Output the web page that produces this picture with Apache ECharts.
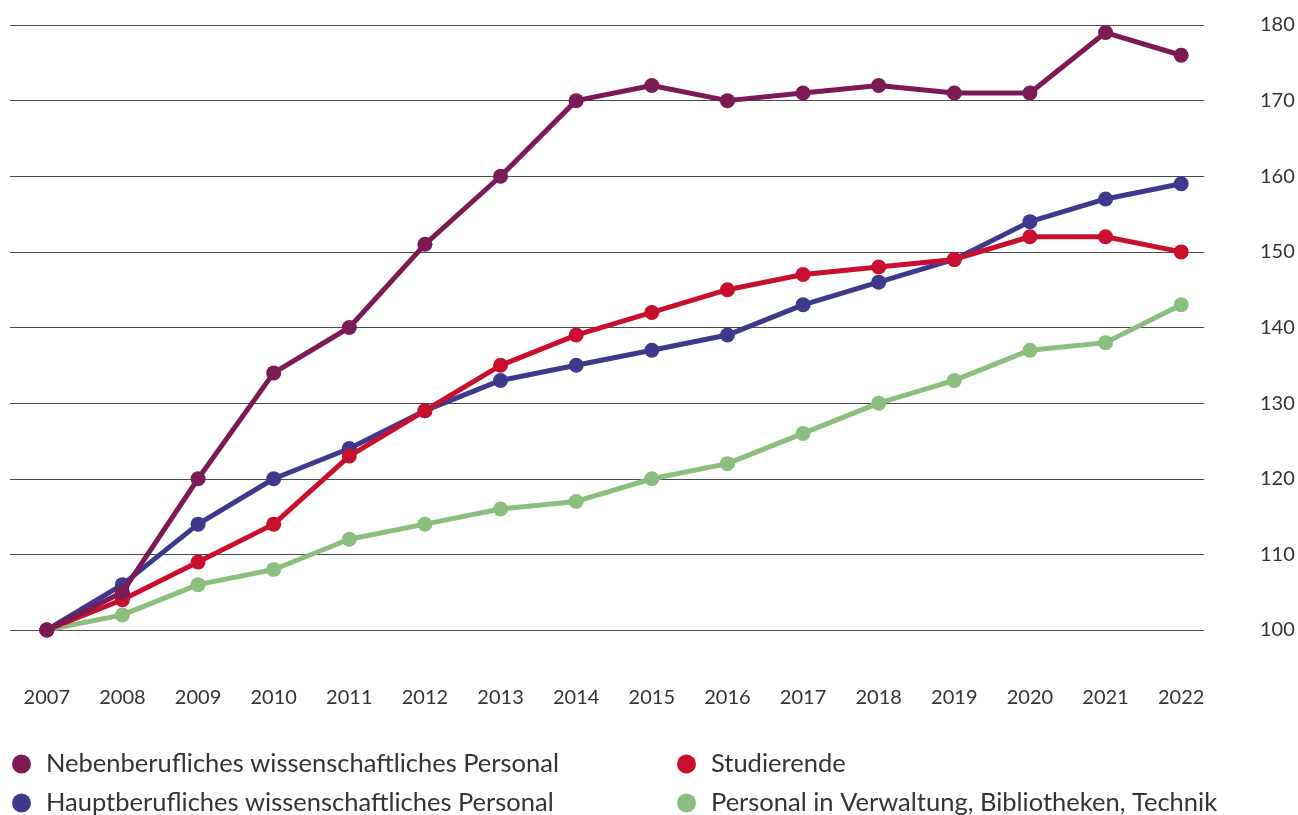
<!DOCTYPE html>
<html>
<head>
<meta charset="utf-8">
<script src="https://cdn.jsdelivr.net/npm/echarts@6/dist/echarts.min.js"></script>
<style>
  html, body { margin: 0; padding: 0; background: #fff; }
  #chart { width: 1298px; height: 815px; }
</style>
</head>
<body>
<div id="chart"></div>
<script>
const years = ['2007', '2008', '2009', '2010', '2011', '2012', '2013', '2014', '2015', '2016', '2017', '2018', '2019', '2020', '2021', '2022']
const yTicks = [100, 110, 120, 130, 140, 150, 160, 170, 180]

const nebenberuflich = [100, 105, 120, 134, 140, 151, 160, 170, 172, 170, 171, 172, 171, 171, 179, 176]
const hauptberuflich = [100, 106, 114, 120, 124, 129, 133, 135, 137, 139, 143, 146, 149, 154, 157, 159]
const studierende = [100, 104, 109, 114, 123, 129, 135, 139, 142, 145, 147, 148, 149, 152, 152, 150]
const verwaltung = [100, 102, 106, 108, 112, 114, 116, 117, 120, 122, 126, 130, 133, 137, 138, 143]

const names = [
  'Nebenberufliches wissenschaftliches Personal',
  'Hauptberufliches wissenschaftliches Personal',
  'Studierende',
  'Personal in Verwaltung, Bibliotheken, Technik'
]
const colors = ['#7b1a55', '#3e398c', '#c8102e', '#8bbe7f']

const font = 'Lato, "Noto Sans", sans-serif'
const yMin = yTicks[0]
const yMax = yTicks[yTicks.length - 1]

const lineSeries = (i, data, z) => ({
  name: names[i],
  type: 'line',
  xAxisIndex: 1,
  yAxisIndex: 1,
  data: data,
  z: z,
  symbol: 'circle',
  symbolSize: 15,
  lineStyle: { width: 5, color: colors[i] },
  itemStyle: { color: colors[i] },
  emphasis: { disabled: true }
})

const legendBase = {
  top: 751,
  height: 90,
  padding: 0,
  orient: 'vertical',
  icon: 'circle',
  itemWidth: 19,
  itemHeight: 19,
  itemGap: 13,
  textStyle: { fontSize: 25.5, lineHeight: 25, color: '#333', fontFamily: font, padding: [0, 0, 0, 10] }
}

const chart = echarts.init(document.getElementById('chart'))
chart.setOption({
  animation: false,
  textStyle: { fontFamily: font },
  grid: [
    // gridlines + right labels
    { left: 10, right: 94, top: 25, height: 605 },
    // data
    { left: 9, right: 79, top: 25, height: 605 }
  ],
  xAxis: [
    { type: 'value', gridIndex: 0, show: false },
    {
      type: 'category',
      gridIndex: 1,
      data: years,
      boundaryGap: true,
      axisLine: { show: false },
      axisTick: { show: false },
      axisLabel: { margin: 58, fontSize: 20, color: '#333', fontFamily: font }
    }
  ],
  yAxis: [
    {
      type: 'value',
      gridIndex: 0,
      position: 'right',
      min: yMin,
      max: yMax,
      interval: 10,
      axisLine: { show: false },
      axisTick: { show: false },
      axisLabel: { margin: 56, fontSize: 20, color: '#333', fontFamily: font },
      splitLine: { lineStyle: { color: '#4a4a4a', width: 1.2 } }
    },
    {
      type: 'value',
      gridIndex: 1,
      min: yMin,
      max: yMax,
      show: false
    }
  ],
  legend: [
    Object.assign({}, legendBase, { data: [names[0], names[1]], left: 12 }),
    Object.assign({}, legendBase, { data: [names[2], names[3]], left: 677 })
  ],
  series: [
    lineSeries(3, verwaltung, 2),
    lineSeries(1, hauptberuflich, 3),
    lineSeries(2, studierende, 4),
    lineSeries(0, nebenberuflich, 5)
  ]
})
</script>
</body>
</html>
